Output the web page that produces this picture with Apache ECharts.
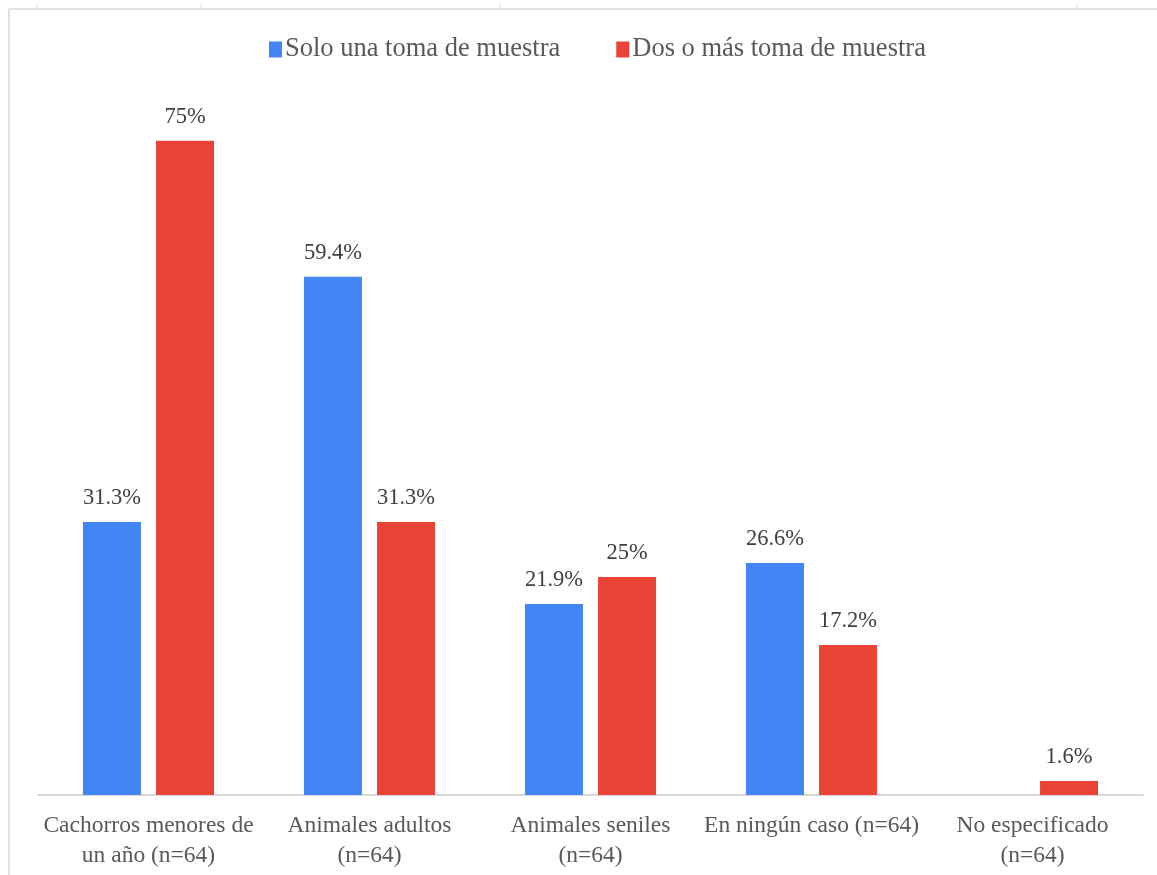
<!DOCTYPE html>
<html>
<head>
<meta charset="utf-8">
<script src="https://cdn.jsdelivr.net/npm/echarts@6/dist/echarts.min.js"></script>
<style>
  html, body { margin: 0; padding: 0; background: #ffffff; }
  #chart { width: 1157px; height: 875px; }
</style>
</head>
<body>
<div id="chart"></div>
<script>
// Categories (sample size shown in each label)
const categories = [
  'Cachorros menores de\nun año (n=64)',
  'Animales adultos\n(n=64)',
  'Animales seniles\n(n=64)',
  'En ningún caso (n=64)',
  'No especificado\n(n=64)'
];
const seriesNames = ['Solo una toma de muestra', 'Dos o más toma de muestra'];
// Percentages; null = no bar
const soloUna = [31.3, 59.4, 21.9, 26.6, null];
const dosOMas = [75, 31.3, 25, 17.2, 1.6];

const serif = '"Liberation Serif", "Times New Roman", serif';
const chart = echarts.init(document.getElementById('chart'));

const labelStyle = {
  show: true,
  position: 'top',
  distance: 12,
  fontFamily: serif,
  fontSize: 22.5,
  color: '#404040',
  formatter: p => p.value + '%'
};

chart.setOption({
  animation: false,
  backgroundColor: '#ffffff',
  graphic: [
    // Sheet frame around the chart
    { type: 'line', shape: { x1: 9, y1: 9, x2: 1157, y2: 9 }, style: { stroke: '#e3e3e3', lineWidth: 2 } },
    { type: 'line', shape: { x1: 9, y1: 9, x2: 9, y2: 875 }, style: { stroke: '#e3e3e3', lineWidth: 2 } },
    { type: 'line', shape: { x1: 37, y1: 3, x2: 37, y2: 9 }, style: { stroke: '#e3e3e3', lineWidth: 1 } },
    { type: 'line', shape: { x1: 201, y1: 3, x2: 201, y2: 9 }, style: { stroke: '#e3e3e3', lineWidth: 1 } },
    { type: 'line', shape: { x1: 500, y1: 3, x2: 500, y2: 9 }, style: { stroke: '#e3e3e3', lineWidth: 1 } },
    { type: 'line', shape: { x1: 1077, y1: 3, x2: 1077, y2: 9 }, style: { stroke: '#e3e3e3', lineWidth: 1 } }
  ],
  legend: {
    top: 31,
    left: 264,
    itemWidth: 13,
    itemHeight: 16,
    itemGap: 56,
    icon: 'rect',
    textStyle: { fontFamily: serif, fontSize: 26.5, color: '#595959', padding: [0, 0, 0, -2] },
    data: seriesNames
  },
  grid: { left: 38, right: 14, top: 97, bottom: 80, containLabel: false },
  xAxis: {
    type: 'category',
    data: categories,
    axisLine: { lineStyle: { color: '#d9d9d9', width: 2 } },
    axisTick: { show: false },
    axisLabel: {
      interval: 0,
      margin: 16,
      fontFamily: serif,
      fontSize: 23.5,
      lineHeight: 30,
      color: '#595959'
    }
  },
  yAxis: {
    type: 'value',
    min: 0,
    max: 80,
    show: false,
    splitLine: { show: false }
  },
  series: [
    {
      name: seriesNames[0],
      type: 'bar',
      data: soloUna,
      barWidth: 58,
      barGap: '26%',
      itemStyle: { color: '#4285f4' },
      label: labelStyle
    },
    {
      name: seriesNames[1],
      type: 'bar',
      data: dosOMas,
      barWidth: 58,
      itemStyle: { color: '#ea4335' },
      label: labelStyle
    }
  ]
});
</script>
</body>
</html>
